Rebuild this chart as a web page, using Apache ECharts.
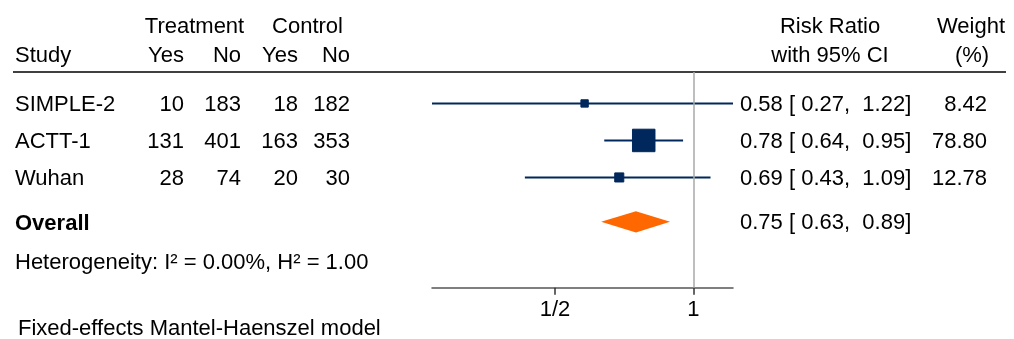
<!DOCTYPE html>
<html>
<head>
<meta charset="utf-8">
<script src="https://cdn.jsdelivr.net/npm/echarts@6/dist/echarts.min.js"></script>
<style>
  html, body { margin: 0; padding: 0; background: #fff; }
  #chart { width: 1014px; height: 339px; }
</style>
</head>
<body>
<div id="chart"></div>
<script>
// Study-level counts and effect estimates
const studies   = ['SIMPLE-2', 'ACTT-1', 'Wuhan'];
const treatYes  = [10, 131, 28];
const treatNo   = [183, 401, 74];
const ctrlYes   = [18, 163, 20];
const ctrlNo    = [182, 353, 30];
const riskRatio = [0.58, 0.78, 0.69];
const ciLower   = [0.27, 0.64, 0.43];
const ciUpper   = [1.22, 0.95, 1.09];
const weights   = [8.42, 78.80, 12.78];

// Pooled estimate: [estimate, lower, upper]
const overallRR = [0.75, 0.63, 0.89];
const heterogeneityText = 'Heterogeneity: I\u00B2 = 0.00%, H\u00B2 = 1.00';
const modelText = 'Fixed-effects Mantel-Haenszel model';

// Axis ticks on the risk-ratio scale
const tickValues = [0.5, 1];
const tickLabels = ['1/2', '1'];

// ---- layout ----
const FONT = "'Liberation Sans', Arial, Helvetica, sans-serif";
const FS = 22;
const NAVY = '#00285c';
const ORANGE = '#ff6700';
const studyRows = [1, 2, 3];
const overallRow = 4.2;
const hetRow = 5.28;
const maxSide = 22.5;
const maxWeight = Math.max(...weights);
const TY = 1.5; // baseline nudge for text

const colStudyX = 15;
const colNumX = [184, 241, 298, 350];
const colRRX = 740;
const colWtX = 987;

const fmt2 = v => v.toFixed(2);
const ciText = (e, l, h) => fmt2(e) + ' [ ' + fmt2(l) + ',  ' + fmt2(h) + ']';

function txt(x, y, s, align, bold) {
  return {
    type: 'text',
    x: x, y: y + TY,
    style: {
      text: s, x: 0, y: 0,
      font: (bold ? 'bold ' : '') + FS + 'px ' + FONT,
      fill: '#000',
      align: align || 'left',
      verticalAlign: 'middle'
    }
  };
}

const chart = echarts.init(document.getElementById('chart'), null, { renderer: 'canvas' });

const option = {
  animation: false,
  backgroundColor: '#fff',
  grid: { left: 432, width: 301, top: 72, height: 215.7, containLabel: false },
  xAxis: {
    type: 'log',
    logBase: 2,
    min: 0.27,
    max: 1.22,
    splitLine: { show: false },
    axisLine: { show: true, lineStyle: { color: '#555', width: 1.5 } },
    axisTick: { show: true, customValues: tickValues, length: 7, lineStyle: { color: '#333', width: 1.5 } },
    axisLabel: {
      show: true,
      customValues: tickValues,
      formatter: v => {
        const i = tickValues.findIndex(t => Math.abs(t - v) < 1e-9);
        return i >= 0 ? tickLabels[i] : '';
      },
      fontFamily: FONT, fontSize: FS, color: '#000', margin: 11
    },
    minorTick: { show: false }
  },
  yAxis: {
    type: 'value',
    inverse: true,
    min: 0.15,
    max: 5.98,
    show: false
  },
  graphic: [
    // column headers
    txt(194.5, 25, 'Treatment', 'center'),
    txt(307.5, 25, 'Control', 'center'),
    txt(830, 25, 'Risk Ratio', 'center'),
    txt(971, 25, 'Weight', 'center'),
    txt(colStudyX, 54, 'Study', 'left'),
    txt(colNumX[0], 54, 'Yes', 'right'),
    txt(colNumX[1], 54, 'No', 'right'),
    txt(colNumX[2], 54, 'Yes', 'right'),
    txt(colNumX[3], 54, 'No', 'right'),
    txt(830, 54, 'with 95% CI', 'center'),
    txt(972, 54, '(%)', 'center'),
    // header rule
    {
      type: 'line',
      shape: { x1: 13, y1: 72, x2: 1006, y2: 72 },
      style: { stroke: '#000', lineWidth: 1.5 }
    },
    // footnote
    txt(18, 327, modelText, 'left')
  ],
  series: [
    {
      // line of no effect
      type: 'custom',
      silent: true,
      data: [],
      renderItem: () => null,
      markLine: {
        silent: true,
        symbol: 'none',
        label: { show: false },
        lineStyle: { color: '#a9a9a9', width: 1.5, type: 'solid' },
        data: [{ xAxis: 1 }]
      }
    },
    {
      // study CIs and weighted squares
      type: 'custom',
      silent: true,
      clip: false,
      data: studies.map((s, i) => [i, riskRatio[i], ciLower[i], ciUpper[i], weights[i], studyRows[i]]),
      renderItem: (params, api) => {
        const row = api.value(5);
        const p = api.coord([api.value(1), row]);
        const l = api.coord([api.value(2), row]);
        const h = api.coord([api.value(3), row]);
        const side = maxSide * Math.sqrt(api.value(4) / maxWeight);
        return {
          type: 'group',
          children: [
            { type: 'line', shape: { x1: l[0], y1: l[1], x2: h[0], y2: h[1] }, style: { stroke: NAVY, lineWidth: 2 } },
            { type: 'rect', shape: { x: p[0] - side / 2, y: p[1] - side / 2, width: side, height: side }, style: { fill: NAVY, stroke: NAVY, lineWidth: 1 } }
          ]
        };
      }
    },
    {
      // pooled diamond
      type: 'custom',
      silent: true,
      clip: false,
      data: [[overallRR[0], overallRR[1], overallRR[2], overallRow]],
      renderItem: (params, api) => {
        const row = api.value(3);
        const e = api.coord([api.value(0), row]);
        const l = api.coord([api.value(1), row]);
        const h = api.coord([api.value(2), row]);
        const hh = 10.6;
        return {
          type: 'polygon',
          shape: { points: [[l[0], l[1]], [e[0], e[1] - hh], [h[0], h[1]], [e[0], e[1] + hh]] },
          style: { fill: ORANGE }
        };
      }
    },
    {
      // table text for each study row
      type: 'custom',
      silent: true,
      clip: false,
      data: studies.map((s, i) => [i, studyRows[i]]),
      renderItem: (params, api) => {
        const i = api.value(0);
        const y = api.coord([1, api.value(1)])[1];
        return {
          type: 'group',
          children: [
            txt(colStudyX, y, studies[i], 'left'),
            txt(colNumX[0], y, String(treatYes[i]), 'right'),
            txt(colNumX[1], y, String(treatNo[i]), 'right'),
            txt(colNumX[2], y, String(ctrlYes[i]), 'right'),
            txt(colNumX[3], y, String(ctrlNo[i]), 'right'),
            txt(colRRX, y, ciText(riskRatio[i], ciLower[i], ciUpper[i]), 'left'),
            txt(colWtX, y, fmt2(weights[i]), 'right')
          ]
        };
      }
    },
    {
      // pooled row and heterogeneity text
      type: 'custom',
      silent: true,
      clip: false,
      data: [[overallRow, hetRow]],
      renderItem: (params, api) => {
        const yo = api.coord([1, api.value(0)])[1];
        const yh = api.coord([1, api.value(1)])[1];
        return {
          type: 'group',
          children: [
            txt(colStudyX, yo + 1, 'Overall', 'left', true),
            txt(colRRX, yo, ciText(overallRR[0], overallRR[1], overallRR[2]), 'left'),
            txt(colStudyX, yh, heterogeneityText, 'left')
          ]
        };
      }
    }
  ]
};

chart.setOption(option);
</script>
</body>
</html>
